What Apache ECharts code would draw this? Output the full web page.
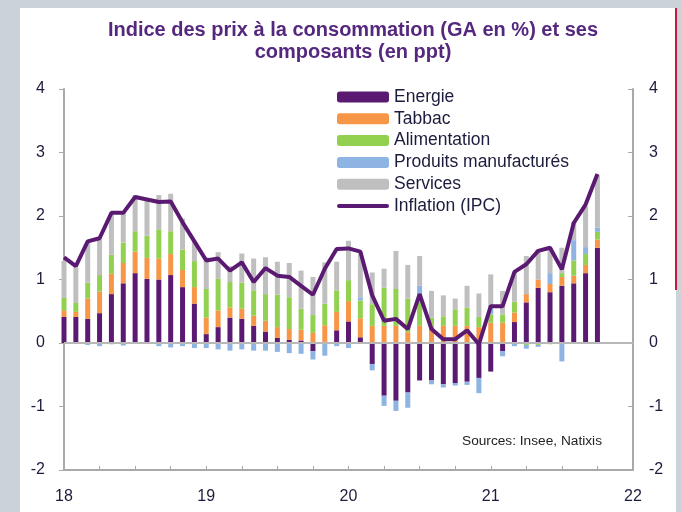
<!DOCTYPE html>
<html>
<head>
<meta charset="utf-8">
<script src="https://cdn.jsdelivr.net/npm/echarts@6/dist/echarts.min.js"></script>
<style>
  html, body { margin: 0; padding: 0; background: #cbd3d9; }
  #chart { width: 681px; height: 512px; }
</style>
</head>
<body>
<div id="chart"></div>
<script>
// months from Jan 2018 to Jan 2022 (axis end), data stops at Oct 2021
const months = [];
for (let y = 18; y <= 22; y++) {
  for (let m = 1; m <= 12; m++) {
    if (y === 22 && m > 1) break;
    months.push(y + '-' + String(m).padStart(2, '0'));
  }
}

const yTicks = [-2, -1, 0, 1, 2, 3, 4];

// contributions in ppt
const energie = [0.41, 0.41, 0.38, 0.47, 0.77, 0.94, 1.10, 1.01, 1.00, 1.07, 0.88, 0.62,
  0.14, 0.25, 0.40, 0.38, 0.27, 0.18, 0.08, 0.05, 0.04, -0.13, 0.02, 0.20,
  0.34, 0.09, -0.33, -0.83, -0.91, -0.78, -0.59, -0.59, -0.65, -0.63, -0.61, -0.55,
  -0.45, -0.13, 0.33, 0.64, 0.87, 0.80, 0.90, 0.94, 1.10, 1.50];
const tabbac = [0.10, 0.08, 0.32, 0.34, 0.32, 0.32, 0.34, 0.33, 0.33, 0.33, 0.27, 0.26,
  0.26, 0.26, 0.16, 0.16, 0.16, 0.17, 0.17, 0.17, 0.17, 0.16, 0.26, 0.29,
  0.32, 0.30, 0.27, 0.27, 0.27, 0.17, 0.27, 0.27, 0.27, 0.27, 0.27, 0.25,
  0.32, 0.32, 0.15, 0.13, 0.13, 0.13, 0.14, 0.12, 0.13, 0.13];
const alimentation = [0.20, 0.14, 0.25, 0.26, 0.30, 0.32, 0.32, 0.35, 0.46, 0.36, 0.32, 0.41,
  0.45, 0.50, 0.40, 0.41, 0.40, 0.42, 0.51, 0.50, 0.33, 0.28, 0.34, 0.34,
  0.33, 0.28, 0.34, 0.60, 0.58, 0.53, 0.50, 0.13, 0.15, 0.26, 0.29, 0.16,
  0.13, 0.13, 0.17, -0.03, -0.03, -0.02, 0.06, 0.24, 0.17, 0.12];
const produits = [0, 0, -0.03, -0.05, -0.02, -0.04, 0, 0, -0.05, -0.07, -0.05, -0.08,
  -0.08, -0.10, -0.12, -0.10, -0.12, -0.12, -0.14, -0.16, -0.17, -0.13, -0.20, -0.05,
  -0.08, 0.05, -0.10, -0.16, -0.16, -0.24, 0.13, -0.06, -0.05, -0.04, -0.05, -0.24,
  0.10, -0.08, -0.05, -0.06, -0.03, 0.17, -0.29, 0.32, 0.11, 0.07];
const services = [0.58, 0.56, 0.64, 0.57, 0.65, 0.48, 0.57, 0.58, 0.54, 0.59, 0.49, 0.30,
  0.50, 0.42, 0.25, 0.46, 0.50, 0.58, 0.52, 0.54, 0.60, 0.60, 0.65, 0.45,
  0.62, 0.68, 0.50, 0.30, 0.60, 0.53, 0.47, 0.42, 0.33, 0.17, 0.34, 0.37,
  0.53, 0.37, 0.46, 0.60, 0.47, 0.40, 0.40, 0.29, 0.64, 0.82];
// CPI yoy in %
const inflation = [1.35, 1.21, 1.60, 1.65, 2.05, 2.05, 2.30, 2.26, 2.22, 2.23, 1.90, 1.60,
  1.30, 1.33, 1.14, 1.27, 0.96, 1.18, 1.06, 1.04, 0.90, 0.76, 1.17, 1.48,
  1.49, 1.44, 0.75, 0.35, 0.38, 0.22, 0.77, 0.22, 0.06, 0.06, 0.20, -0.02,
  0.58, 0.58, 1.12, 1.24, 1.45, 1.50, 1.16, 1.89, 2.18, 2.66];

const labelColor = '#1c1c3c';
const axisGray = '#a9a9a9';

const bar = (name, data, color) => ({
  name: name,
  type: 'bar',
  stack: 'ipc',
  data: data,
  barWidth: 5,
  clip: false,
  itemStyle: { color: color },
  emphasis: { disabled: true }
});

const yAxisBase = (pos) => ({
  type: 'value',
  position: pos,
  min: yTicks[0],
  max: yTicks[yTicks.length - 1],
  interval: 1,
  axisLine: { show: true, lineStyle: { color: axisGray, width: 2 } },
  axisTick: { show: true, inside: pos === 'right', length: 5, lineStyle: { color: axisGray, width: 1 } },
  axisLabel: { color: labelColor, fontSize: 16, fontFamily: 'Liberation Sans', margin: pos === 'right' ? 16 : 19 },
  splitLine: { show: false }
});

const chart = echarts.init(document.getElementById('chart'));
chart.setOption({
  backgroundColor: '#cbd3d9',
  animation: false,
  graphic: [
    { type: 'rect', z: -10, shape: { x: 20, y: 8, width: 656, height: 504 }, style: { fill: '#ffffff' } },
    { type: 'line', z: -9, shape: { x1: 676, y1: 8, x2: 676, y2: 290 }, style: { stroke: '#c8173f', lineWidth: 2 } },
    { type: 'text', left: 462, top: 434, style: { text: 'Sources: Insee, Natixis', font: '13.7px "Liberation Sans"', fill: '#222' } }
  ],
  title: {
    text: 'Indice des prix à la consommation (GA en %) et ses\ncomposants (en ppt)',
    left: 348,
    top: 14,
    textAlign: 'center',
    textStyle: { color: '#55287e', fontSize: 20, fontWeight: 'bold', fontFamily: 'Liberation Sans', lineHeight: 22 }
  },
  legend: {
    orient: 'vertical',
    left: 332,
    top: 83,
    itemWidth: 52,
    itemHeight: 11,
    itemGap: 3.8,
    textStyle: { color: labelColor, fontSize: 17.5, fontFamily: 'Liberation Sans', lineHeight: 15 },
    data: ['Energie', 'Tabbac', 'Alimentation', 'Produits manufacturés', 'Services',
      { name: 'Inflation (IPC)', icon: 'path://M2,0 L50,0 Q52,0 52,2 Q52,4 50,4 L2,4 Q0,4 0,2 Q0,0 2,0 Z' }]
  },
  grid: { left: 64, right: 48, top: 89, bottom: 42 },
  xAxis: {
    type: 'category',
    data: months,
    boundaryGap: false,
    axisLine: { onZero: false, lineStyle: { color: axisGray, width: 2 } },
    axisTick: { inside: true, interval: 2, length: 4, lineStyle: { color: axisGray } },
    axisLabel: {
      interval: 11,
      margin: 19,
      color: labelColor,
      fontSize: 16,
      fontFamily: 'Liberation Sans',
      formatter: (v) => v.slice(0, 2)
    }
  },
  yAxis: [yAxisBase('left'), yAxisBase('right')],
  series: [
    bar('Energie', energie, '#5b1a72'),
    bar('Tabbac', tabbac, '#f79646'),
    bar('Alimentation', alimentation, '#92d050'),
    bar('Produits manufacturés', produits, '#8db4e2'),
    bar('Services', services, '#bfbfbf'),
    {
      name: 'Inflation (IPC)',
      type: 'line',
      data: inflation,
      symbol: 'none',
      z: 5,
      lineStyle: { color: '#5b1a72', width: 4 },
      itemStyle: { color: '#5b1a72' },
      markLine: {
        silent: true,
        symbol: 'none',
        label: { show: false },
        lineStyle: { color: '#b8b8b8', width: 2, type: 'solid' },
        data: [{ yAxis: 0 }]
      }
    }
  ]
});
</script>
</body>
</html>
